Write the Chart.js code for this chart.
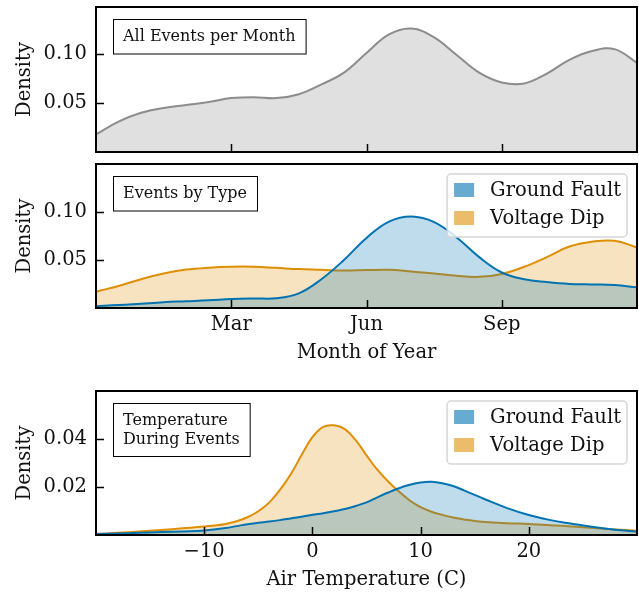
<!DOCTYPE html>
<html>
<head>
<meta charset="utf-8">
<script src="https://cdn.jsdelivr.net/npm/chart.js@4.4.1/dist/chart.umd.min.js"></script>
<style>
  body { margin: 0; background: #fff; }
  #wrap { position: relative; width: 639px; height: 593px; }
  canvas { position: absolute; left: 0; }
</style>
</head>
<body>
<div id="wrap">
  <canvas id="c1" width="639" height="160" style="top:0px"></canvas>
  <canvas id="c2" width="639" height="212" style="top:158px"></canvas>
  <canvas id="c3" width="639" height="209" style="top:384px"></canvas>
</div>
<script>
// month of year axis (0..12), KDE densities
const months = [0, 0.5, 1, 1.5, 2, 2.5, 3, 3.5, 4, 4.5, 5, 5.5, 6, 6.5, 7, 7.5, 8, 8.5, 9, 9.5, 10, 10.5, 11, 11.5, 12];
const allEvents = [0.018, 0.031, 0.040, 0.045, 0.048, 0.051, 0.055, 0.056, 0.055, 0.059, 0.069, 0.081, 0.101, 0.120, 0.126, 0.117, 0.099, 0.081, 0.071, 0.070, 0.080, 0.094, 0.103, 0.105, 0.091];
const faultByMonth = [0.002, 0.003, 0.0045, 0.006, 0.007, 0.008, 0.0094, 0.010, 0.0102, 0.0153, 0.030, 0.050, 0.073, 0.090, 0.0953, 0.0895, 0.0735, 0.053, 0.037, 0.030, 0.027, 0.025, 0.0245, 0.024, 0.0215];
const dipByMonth = [0.017, 0.023, 0.030, 0.036, 0.040, 0.042, 0.043, 0.043, 0.0418, 0.0405, 0.0398, 0.039, 0.0395, 0.0398, 0.038, 0.036, 0.0335, 0.0325, 0.0355, 0.043, 0.053, 0.064, 0.069, 0.070, 0.063];

const monthTicks = [3, 6, 9];
const monthLabels = ['Mar', 'Jun', 'Sep'];

// air temperature (C)
const temps = [-20, -18, -16, -14, -12, -10, -8, -7, -6, -5, -4, -3, -2, -1, 0, 1, 2, 3, 4, 5, 6, 7, 8, 9, 10, 11, 12, 13, 14, 16, 18, 20, 22, 24, 26, 28, 30];
const faultByTemp = [0.0004, 0.0006, 0.0009, 0.0012, 0.0015, 0.0019, 0.0029, 0.0037, 0.0045, 0.0051, 0.0056, 0.0062, 0.0069, 0.0076, 0.0084, 0.0091, 0.0099, 0.0108, 0.0121, 0.0136, 0.0157, 0.0177, 0.0195, 0.0209, 0.0219, 0.0222, 0.0216, 0.0204, 0.0186, 0.0148, 0.0112, 0.0083, 0.0062, 0.0047, 0.0033, 0.0022, 0.0014];
const dipByTemp = [0.0004, 0.0009, 0.0015, 0.0021, 0.0028, 0.0035, 0.0046, 0.0057, 0.0074, 0.0099, 0.0135, 0.0188, 0.0253, 0.0333, 0.0408, 0.0451, 0.0457, 0.0441, 0.0395, 0.0332, 0.0272, 0.0223, 0.0181, 0.0144, 0.0116, 0.0097, 0.0084, 0.0073, 0.0065, 0.0054, 0.0049, 0.0046, 0.0041, 0.0035, 0.0029, 0.0023, 0.0018];
const tempTicks = [-10, 0, 10, 20];

const monthDensityTicks = [0.05, 0.10];
const tempDensityTicks = [0.02, 0.04];

const seriesNames = ['Ground Fault', 'Voltage Dip'];

const FONT = "'DejaVu Serif', serif";
const SIZE = 19.5;
const BLUE = '#0173b2';
const ORANGE = '#de8f05';

Chart.defaults.font.family = FONT;
Chart.defaults.color = '#111';

const toPoints = (xs, ys) => xs.map((x, i) => ({ x: x, y: ys[i] }));

// black frame round the plot area plus matplotlib-style inward ticks
const framePlugin = {
  id: 'frame',
  afterDraw(chart) {
    const { ctx, chartArea: a, scales } = chart;
    ctx.save();
    ctx.strokeStyle = '#000';
    ctx.lineWidth = 1.5;
    ctx.beginPath();
    scales.x.ticks.forEach(t => {
      const px = Math.round(scales.x.getPixelForValue(t.value)) + 0.5;
      ctx.moveTo(px, a.bottom);
      ctx.lineTo(px, a.bottom - 8);
    });
    scales.y.ticks.forEach(t => {
      const py = Math.round(scales.y.getPixelForValue(t.value)) + 0.5;
      ctx.moveTo(a.left, py);
      ctx.lineTo(a.left + 8, py);
    });
    ctx.stroke();
    ctx.lineWidth = 2;
    ctx.strokeRect(a.left, a.top, a.right - a.left, a.bottom - a.top);
    ctx.restore();
  }
};

// boxed caption in the upper left corner
const notePlugin = {
  id: 'note',
  afterDraw(chart, args, opts) {
    if (!opts.lines) return;
    const { ctx, chartArea: a } = chart;
    ctx.save();
    ctx.font = '16px ' + FONT;
    const lh = 18.5;
    const w = Math.max(...opts.lines.map(l => ctx.measureText(l).width));
    const x = a.left + 17, y = a.top + 12;
    const bw = w + 20, bh = opts.lines.length * lh + 16;
    ctx.fillStyle = '#fff';
    ctx.fillRect(x, y, bw, bh);
    ctx.strokeStyle = '#000';
    ctx.lineWidth = 1;
    ctx.strokeRect(x + 0.5, y + 0.5, bw, bh);
    ctx.fillStyle = '#111';
    ctx.textBaseline = 'middle';
    opts.lines.forEach((l, i) => ctx.fillText(l, x + 10, y + 8 + lh / 2 + i * lh + 1));
    ctx.restore();
  }
};

// legend box inside the plot, upper right
const boxLegendPlugin = {
  id: 'boxLegend',
  afterDraw(chart, args, opts) {
    if (!opts.show) return;
    const { ctx, chartArea: a } = chart;
    const items = chart.data.datasets;
    ctx.save();
    ctx.font = SIZE + 'px ' + FONT;
    const tw = Math.max(...items.map(d => ctx.measureText(d.label).width));
    const bw = tw + 49, bh = items.length * 28 + 7;
    const x = a.right - 10 - bw, y = a.top + 10;
    ctx.fillStyle = 'rgba(255,255,255,0.8)';
    ctx.strokeStyle = '#d6d6d6';
    ctx.lineWidth = 1.5;
    ctx.beginPath();
    ctx.roundRect(x, y, bw, bh, 4);
    ctx.fill();
    ctx.stroke();
    items.forEach((d, i) => {
      const cy = y + 16 + i * 28;
      ctx.fillStyle = d.legendColor;
      ctx.fillRect(x + 7, cy - 7, 20, 14);
      ctx.fillStyle = '#111';
      ctx.textBaseline = 'middle';
      ctx.fillText(d.label, x + 43, cy + 1);
    });
    ctx.restore();
  }
};

function densityAxis(tickVals, max) {
  return {
    min: 0,
    max: max,
    afterBuildTicks: s => { s.ticks = tickVals.map(v => ({ value: v })); },
    afterFit: s => { s.width = 96; s.paddingTop = 0; s.paddingBottom = 0; },
    grid: { display: false, drawTicks: false },
    border: { display: false },
    ticks: { padding: 9, font: { size: SIZE }, callback: v => v.toFixed(2) },
    title: { display: true, text: 'Density', font: { size: SIZE }, padding: { top: 13, bottom: 0 } }
  };
}

function kdeSet(label, xs, ys, color, fill, legendColor) {
  return {
    label: label,
    data: toPoints(xs, ys),
    borderColor: color,
    backgroundColor: fill,
    legendColor: legendColor,
    borderWidth: 2,
    fill: 'origin',
    pointRadius: 0,
    tension: 0.4
  };
}

function monthAxis(height, showLabels) {
  return {
    type: 'linear', min: 0, max: 12,
    afterBuildTicks: s => { s.ticks = monthTicks.map(v => ({ value: v })); },
    afterFit: s => { s.height = height; s.paddingLeft = 0; s.paddingRight = 0; },
    grid: { display: false, drawTicks: false },
    border: { display: false },
    ticks: {
      display: showLabels,
      padding: 5, font: { size: SIZE }, maxRotation: 0,
      callback: v => monthLabels[monthTicks.indexOf(v)]
    },
    title: { display: showLabels, text: 'Month of Year', font: { size: SIZE }, padding: { top: 0, bottom: 5 } }
  };
}

const plugins = [framePlugin, notePlugin, boxLegendPlugin];

function baseOptions(padTop, xAxis, yAxis, noteLines, showLegend) {
  return {
    responsive: false,
    animation: false,
    devicePixelRatio: 1,
    layout: { padding: { top: padTop, right: 2, left: 0, bottom: 0 } },
    scales: { x: xAxis, y: yAxis },
    plugins: {
      legend: { display: false },
      tooltip: { enabled: false },
      note: { lines: noteLines },
      boxLegend: { show: showLegend }
    }
  };
}

// panel 1: all events
new Chart(document.getElementById('c1'), {
  type: 'line',
  data: {
    datasets: [kdeSet('All Events', months, allEvents, '#8c8c8c', 'rgba(140,140,140,0.27)', '#aaa')]
  },
  options: baseOptions(7, monthAxis(8, false), densityAxis(monthDensityTicks, 0.148), ['All Events per Month'], false),
  plugins: plugins
});

// panel 2: events by type over the year
new Chart(document.getElementById('c2'), {
  type: 'line',
  data: {
    datasets: [
      kdeSet(seriesNames[0], months, faultByMonth, BLUE, 'rgba(1,115,178,0.25)', 'rgba(1,115,178,0.6)'),
      kdeSet(seriesNames[1], months, dipByMonth, ORANGE, 'rgba(222,143,5,0.25)', 'rgba(222,143,5,0.6)')
    ]
  },
  options: baseOptions(6, monthAxis(62, true), densityAxis(monthDensityTicks, 0.15), ['Events by Type'], true),
  plugins: plugins
});

// panel 3: air temperature during events
const tempAxis = {
  type: 'linear', min: -20, max: 30,
  afterBuildTicks: s => { s.ticks = tempTicks.map(v => ({ value: v })); },
  afterFit: s => { s.height = 58; s.paddingLeft = 0; s.paddingRight = 0; },
  grid: { display: false, drawTicks: false },
  border: { display: false },
  ticks: {
    padding: 5, font: { size: SIZE }, maxRotation: 0,
    callback: v => (v < 0 ? '\u2212' + Math.abs(v) : String(v))
  },
  title: { display: true, text: 'Air Temperature (C)', font: { size: SIZE }, padding: { top: 0, bottom: 1 } }
};

new Chart(document.getElementById('c3'), {
  type: 'line',
  data: {
    datasets: [
      kdeSet(seriesNames[0], temps, faultByTemp, BLUE, 'rgba(1,115,178,0.25)', 'rgba(1,115,178,0.6)'),
      kdeSet(seriesNames[1], temps, dipByTemp, ORANGE, 'rgba(222,143,5,0.25)', 'rgba(222,143,5,0.6)')
    ]
  },
  options: baseOptions(7, tempAxis, densityAxis(tempDensityTicks, 0.06), ['Temperature', 'During Events'], true),
  plugins: plugins
});
</script>
</body>
</html>
